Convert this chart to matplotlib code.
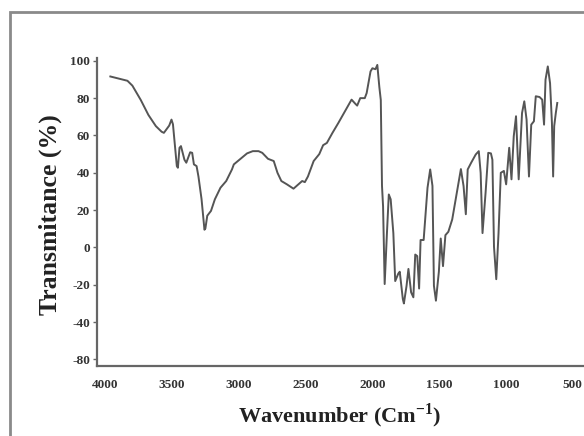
import matplotlib
matplotlib.use('Agg')
import matplotlib.pyplot as plt
import matplotlib.patches as mpatches

# spectrum (wavenumber, transmittance on the drawn scale)
wavenumber = [3963, 3835, 3798, 3735, 3678, 3622, 3579, 3562, 3522, 3505, 3494,
              3465, 3457, 3445, 3434, 3408, 3394, 3365, 3350, 3337, 3317, 3303,
              3280, 3258, 3251, 3237, 3209, 3180, 3138, 3095, 3052, 3038, 2996,
              2939, 2896, 2853, 2825, 2782, 2739, 2711, 2682, 2640, 2591, 2554,
              2526, 2506, 2483, 2440, 2398, 2369, 2341, 2299, 2255, 2199, 2156,
              2128, 2114, 2091, 2057, 2043, 2014, 2000, 1977, 1963, 1948, 1937,
              1928, 1920, 1908, 1891, 1877, 1863, 1843, 1829, 1806, 1795, 1772,
              1764, 1744, 1730, 1710, 1693, 1679, 1664, 1650, 1639, 1616, 1587,
              1567, 1550, 1539, 1524, 1502, 1488, 1471, 1453, 1431, 1402, 1359,
              1337, 1317, 1300, 1286, 1260, 1226, 1203, 1189, 1175, 1152, 1132,
              1112, 1101, 1089, 1072, 1055, 1038, 1015, 998, 975, 958, 941, 924,
              904, 879, 862, 845, 827, 810, 790, 776, 748, 728, 714, 703, 686,
              669, 655, 646, 638, 626, 615]
transmittance = [91.6, 89.3, 86.7, 79, 71, 65, 62, 61.4, 65.3, 68.5, 66,
                 43.6, 42.7, 53.4, 54.3, 47, 45.4, 51, 50.7, 44.5, 43.6, 38,
                 26, 9.5, 10.2, 17, 19.6, 25.8, 32, 35.6, 41.8, 44.5, 47,
                 50.4, 51.6, 51.6, 50.7, 47.5, 46.3, 40, 35.6, 33.8, 31.5, 33.8,
                 35.6, 35, 38, 46.3, 50, 54.8, 56, 61.4, 66.7, 73.8, 79.2,
                 77, 76, 80, 80, 82.7, 94.3, 96, 95.5, 97.8, 86, 79,
                 33, 22, -19.6, 7.7, 28.4, 25.8, 7.7, -18, -14, -13, -27.6,
                 -30, -20.5, -11.5, -24, -26.7, -3.8, -4.6, -22, 4, 4, 32,
                 41.8, 33, -20.5, -28.5, -13, 4.8, -10, 6.6, 8.4, 15, 32.9,
                 42, 32.9, 17.8, 41.8, 45.4, 49.8, 51.6, 40, 7.7, 29.4, 50.7,
                 50.4, 47, 0.4, -17, 7.7, 40, 41, 33.8, 53.4, 36.5, 59.6, 70.3,
                 36.5, 72, 78.3, 68.5, 38, 65.8, 67.6, 81, 80.6, 79.2, 65.8, 89.9, 97,
                 88, 66.7, 38, 65, 72, 77.4]

# the original axis labels its lowest tick "-80" at the -60 position
y_ticks = [100, 80, 60, 40, 20, 0, -20, -40, -60]
y_tick_labels = ['100', '80', '60', '40', '20', '0', '-20', '-40', '-80']
x_ticks = [4000, 3500, 3000, 2500, 2000, 1500, 1000, 500]

plt.rcParams['font.family'] = 'Liberation Serif'
plt.rcParams['mathtext.fontset'] = 'custom'
plt.rcParams['mathtext.rm'] = 'Liberation Serif'
plt.rcParams['mathtext.bf'] = 'Liberation Serif:bold'

fig = plt.figure(figsize=(5.84, 4.36), dpi=100)

# grey frame around the whole picture (its right and bottom sides are cut off)
frame = mpatches.Rectangle((10 / 584, -0.05), 1.1, 1 - 12 / 436 + 0.05,
                           transform=fig.transFigure, fill=False,
                           edgecolor='#8a8a8a', linewidth=2.0)
fig.patches.append(frame)

ax = fig.add_axes([97 / 584, 1 - 366 / 436, 1 - 97 / 584 + 0.01, (366 - 58) / 436])
ax.plot(wavenumber, transmittance, color='#555555', linewidth=1.4)

ax.set_xlim(4063, 371)
ax.set_ylim(-63.5, 101.5)
ax.set_yticks(y_ticks)
ax.set_yticklabels(y_tick_labels)
ax.set_xticks(x_ticks)

for side in ['top', 'right']:
    ax.spines[side].set_visible(False)
for side in ['left', 'bottom']:
    ax.spines[side].set_color('#666666')
    ax.spines[side].set_linewidth(1.6)

ax.tick_params(axis='y', length=3, width=1, color='#666666', pad=2,
               labelsize=9.5, labelcolor='#333333')
ax.tick_params(axis='x', length=0, pad=9, labelsize=9.5, labelcolor='#333333')
for lbl in ax.get_xticklabels() + ax.get_yticklabels():
    lbl.set_fontweight('bold')

fig.text(50 / 584, 1 - 215 / 436, 'Transmitance (%)', rotation=90,
         fontsize=18.5, fontweight='bold', color='#222222',
         ha='center', va='center')
fig.text(340 / 584, 1 - 416 / 436, r'Wavenumber (Cm$^{\mathbf{-1}}$)',
         fontsize=16, fontweight='bold', color='#222222',
         ha='center', va='center')

plt.savefig('out.png', dpi=100)
